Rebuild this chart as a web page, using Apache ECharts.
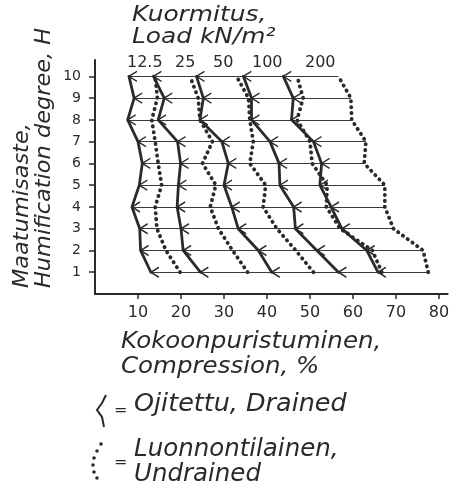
<!DOCTYPE html>
<html>
<head>
<meta charset="utf-8">
<script src="https://cdn.jsdelivr.net/npm/echarts@6/dist/echarts.min.js"></script>
<style>
  html, body { margin: 0; padding: 0; background: #fff; }
  #chart { width: 457px; height: 496px; }
</style>
</head>
<body>
<div id="chart"></div>
<script>
// Humification degree H (y) for each measurement row
const levels = [1, 2, 3, 4, 5, 6, 7, 8, 9, 10];
const xTicks = [10, 20, 30, 40, 50, 60, 70, 80];
const yTicks = [1, 2, 3, 4, 5, 6, 7, 8, 9, 10];
const loadNames = ['12.5', '25', '50', '100', '200'];

// Compression % per humification degree 1..10, drained (solid) and undrained (dotted)
const drained12  = [13.0, 10.6, 10.4, 8.6, 10.3, 11.0, 10.0, 7.6, 9.1, 7.9];
const undrained12 = [19.8, 16.5, 14.4, 14.0, 15.5, 14.7, 14.0, 13.2, 14.5, 14.0];
const drained25  = [24.5, 20.5, 20.0, 19.1, 19.4, 19.9, 19.2, 14.7, 16.1, 13.6];
const undrained25 = [35.5, 32.0, 28.7, 26.8, 28.1, 25.0, 27.3, 24.4, 24.0, 22.1];
const drained50  = [41.1, 38.0, 33.3, 31.8, 30.0, 31.0, 29.5, 24.4, 25.2, 23.6];
const undrained50 = [50.8, 46.7, 42.3, 39.1, 39.7, 36.0, 36.8, 36.0, 35.7, 32.9];
const drained100 = [56.6, 51.6, 46.6, 46.2, 43.0, 42.8, 40.7, 36.4, 36.4, 34.5];
const undrained100 = [66.7, 64.5, 57.0, 53.8, 54.0, 50.5, 50.0, 47.0, 48.4, 47.0];
const drained200 = [65.8, 63.2, 57.4, 54.9, 52.3, 52.7, 50.8, 45.7, 46.1, 43.8];
const undrained200 = [77.5, 76.3, 69.4, 67.4, 67.4, 62.6, 63.0, 59.7, 59.5, 56.6];

const drainedSets = [drained12, drained25, drained50, drained100, drained200];
const undrainedSets = [undrained12, undrained25, undrained50, undrained100, undrained200];

const INK = '#2a2a2a';
const FONT = 'DejaVu Sans';
const chevron = 'path://M10,0 L0,5 L10,10';

const toPairs = arr => arr.map((v, i) => [v, levels[i]]);

const series = [];

// thin horizontal rows from the leftmost drained point to the rightmost undrained point
series.push({
  type: 'lines',
  coordinateSystem: 'cartesian2d',
  silent: true,
  z: 1,
  lineStyle: { color: '#3a3a3a', width: 1, opacity: 1 },
  data: levels.map((l, i) => ({ coords: [[drained12[i], l], [undrained200[i], l]] }))
});

undrainedSets.forEach((arr, k) => {
  series.push({
    type: 'line',
    name: 'undrained ' + loadNames[k],
    data: toPairs(arr),
    symbol: 'none',
    silent: true,
    z: 2,
    lineStyle: { color: INK, width: 3.8, type: [0.3, 5.6], cap: 'round' }
  });
});

drainedSets.forEach((arr, k) => {
  series.push({
    type: 'line',
    name: 'drained ' + loadNames[k],
    data: toPairs(arr),
    symbol: chevron,
    symbolSize: [8, 10],
    symbolOffset: ['50%', 0],
    showSymbol: true,
    silent: true,
    z: 3,
    lineStyle: { color: INK, width: 2.8, cap: 'round', join: 'round' },
    itemStyle: { color: 'rgba(0,0,0,0)', borderColor: INK, borderWidth: 1.4 }
  });
});

const loadLabelX = [127, 175, 213, 252, 305];
const graphic = [
  {
    type: 'text', x: 132, y: 4, scaleX: 1.13,
    style: { text: 'Kuormitus,\nLoad kN/m²', font: 'italic 22px ' + FONT, fill: INK,
             lineHeight: 22, verticalAlign: 'top' }
  },
  {
    type: 'text', x: 11, y: 288, rotation: Math.PI / 2, scaleX: 1.02,
    style: { text: 'Maatumisaste,\nHumification degree, H', font: 'italic 22px ' + FONT, fill: INK,
             lineHeight: 22, align: 'left', verticalAlign: 'top' }
  },
  {
    type: 'text', x: 121, y: 330, scaleX: 1.065,
    style: { text: 'Kokoonpuristuminen,\nCompression, %', font: 'italic 23px ' + FONT, fill: INK,
             lineHeight: 25, verticalAlign: 'top' }
  },
  {
    type: 'polyline', silent: true,
    shape: { points: [[106, 395], [102, 403], [97, 410], [102, 417], [104, 427]] },
    style: { stroke: INK, lineWidth: 2, fill: null }
  },
  {
    type: 'text', x: 114, y: 411,
    style: { text: '=', font: '16px ' + FONT, fill: INK, verticalAlign: 'middle' }
  },
  {
    type: 'text', x: 134, y: 393, scaleX: 1.06,
    style: { text: 'Ojitettu, Drained', font: 'italic 24px ' + FONT, fill: INK, verticalAlign: 'top' }
  },
  {
    type: 'text', x: 114, y: 463,
    style: { text: '=', font: '16px ' + FONT, fill: INK, verticalAlign: 'middle' }
  },
  {
    type: 'text', x: 134, y: 437, scaleX: 1.02,
    style: { text: 'Luonnontilainen,\nUndrained', font: 'italic 24px ' + FONT, fill: INK,
             lineHeight: 25, verticalAlign: 'top' }
  }
];
// dotted legend key
[[101, 444], [97, 451], [94, 458], [93, 465], [94, 472], [97, 478]].forEach(p => {
  graphic.push({ type: 'circle', shape: { cx: p[0], cy: p[1], r: 1.8 }, style: { fill: INK } });
});
loadNames.forEach((t, k) => {
  graphic.push({
    type: 'text', x: loadLabelX[k], y: 55,
    style: { text: t, font: '16px ' + FONT, fill: INK, verticalAlign: 'top' }
  });
});

const chart = echarts.init(document.getElementById('chart'), null, { renderer: 'canvas' });
chart.setOption({
  animation: false,
  backgroundColor: '#fff',
  grid: { left: 95, top: 60, width: 352.6, height: 234, containLabel: false },
  xAxis: {
    type: 'value', min: 0, max: 82,
    axisLine: { show: true, onZero: false, lineStyle: { color: INK, width: 2 } },
    axisTick: { show: true, customValues: xTicks, length: 5, lineStyle: { color: INK, width: 1.5 } },
    axisLabel: { customValues: xTicks, margin: 11, color: INK, fontFamily: FONT, fontSize: 16 },
    splitLine: { show: false }
  },
  yAxis: {
    type: 'value', min: 0, max: 10.75,
    axisLine: { show: true, onZero: false, lineStyle: { color: INK, width: 2 } },
    axisTick: { show: true, customValues: yTicks, length: 6, lineStyle: { color: INK, width: 1.5 } },
    axisLabel: { customValues: yTicks, margin: 14, color: INK, fontFamily: FONT, fontSize: 14 },
    splitLine: { show: false }
  },
  series: series,
  graphic: graphic
});
</script>
</body>
</html>
